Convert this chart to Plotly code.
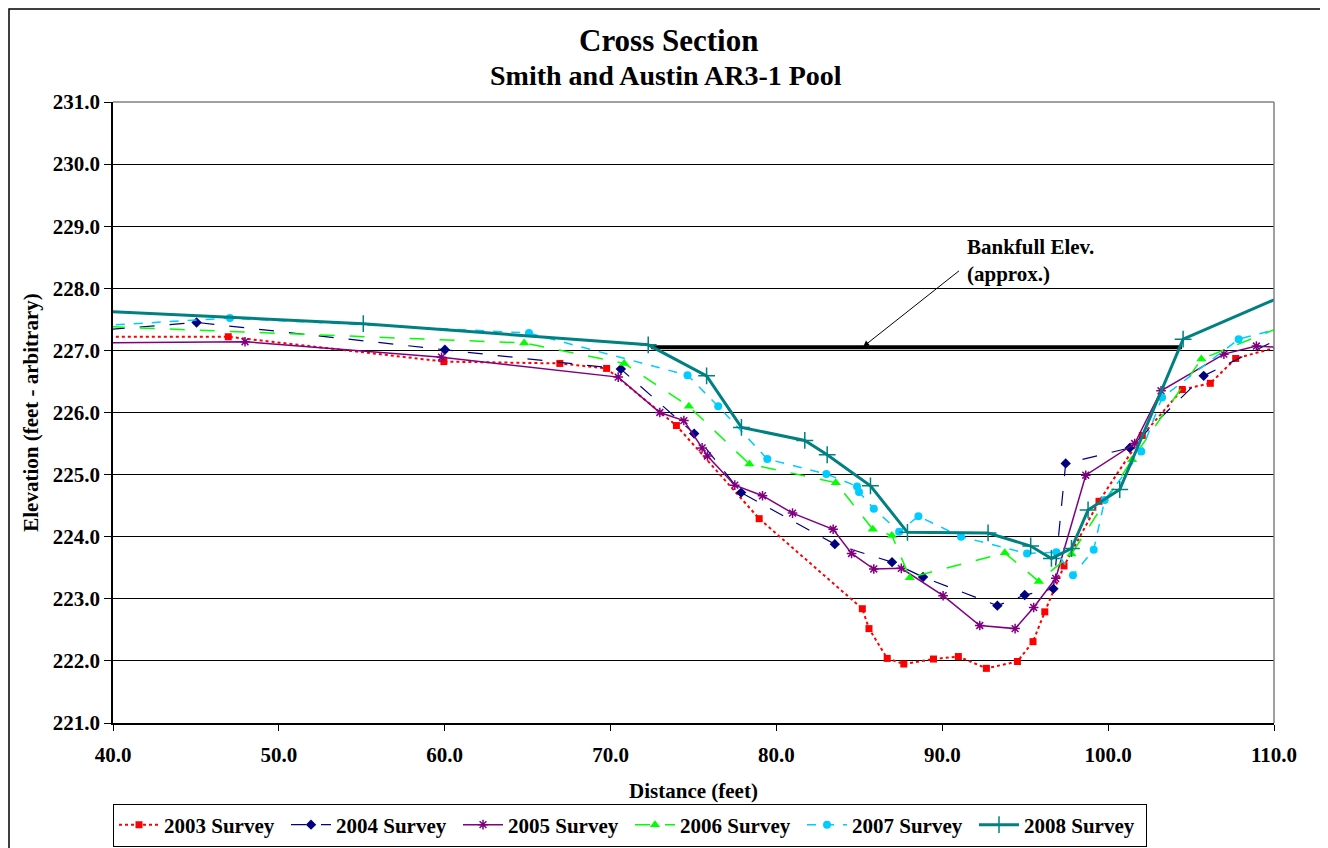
import plotly.graph_objects as go

# ---------------- data ----------------
x2003 = [38.0, 46.95, 59.95, 66.94, 69.76, 73.97, 78.96, 85.18, 85.58, 86.68, 87.68, 89.47, 90.97, 92.66, 94.53, 95.47, 96.18, 97.34, 99.45, 102.06, 104.47, 106.16, 107.69, 111.0]
y2003 = [227.22, 227.22, 226.82, 226.79, 226.71, 225.79, 224.29, 222.84, 222.52, 222.04, 221.95, 222.03, 222.07, 221.88, 221.99, 222.31, 222.79, 223.53, 224.57, 225.63, 226.37, 226.47, 226.87, 227.11]

x2004 = [38.0, 45.04, 60.01, 70.62, 75.04, 77.87, 83.52, 86.97, 88.84, 93.32, 94.97, 96.70, 97.44, 101.30, 105.76, 111.0]
y2004 = [227.30, 227.45, 227.01, 226.70, 225.66, 224.71, 223.88, 223.59, 223.35, 222.89, 223.06, 223.16, 225.18, 225.43, 226.59, 227.28]

x2005 = [38.0, 47.96, 59.81, 70.46, 72.97, 74.42, 75.52, 75.84, 77.49, 79.16, 80.97, 83.42, 84.53, 85.87, 87.53, 90.05, 92.26, 94.39, 95.51, 96.84, 98.65, 101.6, 103.19, 106.98, 108.94, 111.0]
y2005 = [227.12, 227.14, 226.89, 226.57, 226.00, 225.87, 225.43, 225.30, 224.83, 224.66, 224.38, 224.12, 223.73, 223.48, 223.49, 223.05, 222.57, 222.52, 222.86, 223.33, 224.99, 225.50, 226.35, 226.94, 227.07, 227.04]

x2006 = [38.0, 64.79, 70.82, 74.72, 78.37, 83.58, 85.81, 86.96, 88.04, 93.77, 95.82, 97.79, 101.44, 105.62, 111.0]
y2006 = [227.40, 227.12, 226.79, 226.10, 225.17, 224.87, 224.12, 224.02, 223.34, 223.74, 223.28, 223.72, 225.24, 226.86, 227.44]

x2007 = [38.0, 47.05, 65.08, 74.64, 76.49, 79.45, 83.01, 84.86, 84.98, 85.87, 87.40, 88.56, 91.13, 95.11, 96.88, 97.88, 99.13, 99.79, 102.0, 103.25, 107.87, 111.0]
y2007 = [227.38, 227.52, 227.28, 226.60, 226.10, 225.25, 225.01, 224.81, 224.72, 224.45, 224.08, 224.33, 224.00, 223.73, 223.75, 223.38, 223.79, 224.59, 225.37, 226.24, 227.18, 227.40]

x2008 = [38.0, 55.09, 72.27, 75.79, 77.89, 81.71, 83.06, 85.67, 87.90, 92.76, 95.33, 96.58, 97.79, 98.79, 100.70, 104.52, 111.0]
y2008 = [227.65, 227.43, 227.09, 226.59, 225.76, 225.55, 225.32, 224.82, 224.07, 224.06, 223.85, 223.65, 223.81, 224.43, 224.76, 227.18, 227.93]

bankfull_x = [72.45, 104.45]
bankfull_y = [227.05, 227.05]

x_ticks = [40, 50, 60, 70, 80, 90, 100, 110]
y_ticks = [221, 222, 223, 224, 225, 226, 227, 228, 229, 230, 231]

FONT = "Liberation Serif"

fig = go.Figure()

fig.add_trace(go.Scatter(x=bankfull_x, y=bankfull_y, mode="lines",
                         line=dict(color="black", width=4), showlegend=False,
                         hoverinfo="skip"))

series = [
    ("2003 Survey", x2003, y2003, dict(color="#FF0000", width=2, dash="dot"),
     dict(symbol="square", size=7, color="#FF0000")),
    ("2004 Survey", x2004, y2004, dict(color="#000080", width=1.2, dash="longdash"),
     dict(symbol="diamond", size=8, color="#000080")),
    ("2005 Survey", x2005, y2005, dict(color="#800080", width=1.5),
     dict(symbol="asterisk-open", size=8, color="#800080", line=dict(color="#800080", width=1.5))),
    ("2006 Survey", x2006, y2006, dict(color="#00FF00", width=1.5, dash="longdash"),
     dict(symbol="triangle-up", size=9, color="#00FF00")),
    ("2007 Survey", x2007, y2007, dict(color="#00CCFF", width=1.5, dash="dash"),
     dict(symbol="circle", size=8, color="#00CCFF")),
    ("2008 Survey", x2008, y2008, dict(color="#008080", width=3),
     dict(symbol="cross-thin-open", size=12, color="#008080", line=dict(color="#008080", width=1.5))),
]
for name, xs, ys, ln, mk in series:
    fig.add_trace(go.Scatter(x=xs, y=ys, mode="lines+markers", name=name,
                             line=ln, marker=mk))

# The page has an 8px body margin; figure is sized/positioned to compensate.
OFF = 8
W, H = 1320, 840
L, R, T, B = 105, 54, 94, 125
pw, ph = W - L - R, H - T - B

def fpx(fx):          # figure px -> paper x
    return (fx - L) / pw

def fpy(fy):          # figure px -> paper y
    return (H - B - fy) / ph

def px(X):            # reference (page) px -> paper x
    return fpx(X - OFF)

def py(Y):
    return fpy(Y - OFF)

fig.update_layout(
    width=W, height=H,
    margin=dict(l=L, r=R, t=T, b=B),
    paper_bgcolor="white", plot_bgcolor="white",
    font=dict(family=FONT, size=20, color="black"),
    showlegend=True,
    legend=dict(orientation="h", xref="container", yref="container",
                x=(113 - OFF) / W, y=1 - (825 - OFF) / H,
                xanchor="left", yanchor="middle",
                bordercolor="black", borderwidth=1,
                font=dict(family=FONT, size=21, color="black", weight="bold"),
                entrywidth=117, entrywidthmode="pixels", itemwidth=40,
                tracegroupgap=0),
    xaxis=dict(range=[40, 110], tickvals=x_ticks, tickformat=".1f",
               automargin=False,
               showgrid=False, zeroline=False,
               showline=True, linecolor="black", linewidth=1.5,
               ticks="outside", ticklen=6, tickcolor="black",
               ticklabelstandoff=6,
               tickfont=dict(family=FONT, size=21, weight="bold"),
               title=dict(text="<b>Distance (feet)</b>", standoff=17,
                          font=dict(family=FONT, size=21))),
    yaxis=dict(range=[221, 231], tickvals=y_ticks, tickformat=".1f",
               automargin=False,
               showgrid=True, gridcolor="black", gridwidth=1, zeroline=False,
               showline=True, linecolor="black", linewidth=1.5,
               ticks="outside", ticklen=7, tickcolor="black",
               tickfont=dict(family=FONT, size=21, weight="bold"),
               title=dict(text="<b>Elevation (feet - arbitrary)</b>", standoff=8,
                          font=dict(family=FONT, size=21))),
)

# plot-area frame (top/right in gray) and outer chart border
fig.add_shape(type="line", xref="paper", yref="paper", x0=0, x1=1, y0=1, y1=1,
              line=dict(color="#808080", width=1.5))
fig.add_shape(type="line", xref="paper", yref="paper", x0=1, x1=1, y0=0, y1=1,
              line=dict(color="#808080", width=1.5))
fig.add_shape(type="rect", xref="paper", yref="paper",
              x0=fpx(1), x1=px(1325), y0=fpy(H + 5), y1=fpy(1),
              line=dict(color="black", width=1.5))

# titles
fig.add_annotation(text="<b>Cross Section</b>", xref="paper", yref="paper",
                   x=px(668), y=py(40), showarrow=False, xanchor="center", yanchor="middle",
                   font=dict(family=FONT, size=31))
fig.add_annotation(text="<b>Smith and Austin AR3-1 Pool</b>", xref="paper", yref="paper",
                   x=px(666), y=py(75), showarrow=False, xanchor="center", yanchor="middle",
                   font=dict(family=FONT, size=28))

# bankfull annotation
fig.add_annotation(x=85.23, y=227.06, ax=91.1, ay=228.3, xref="x", yref="y",
                   axref="x", ayref="y", text="", showarrow=True,
                   arrowhead=2, arrowsize=1.2, arrowwidth=1, arrowcolor="black")
fig.add_annotation(x=91.35, y=228.45, xref="x", yref="y", showarrow=False,
                   text="<b>Bankfull Elev.<br>(approx.)</b>", align="left",
                   xanchor="left", yanchor="middle",
                   font=dict(family=FONT, size=21))

fig.write_html("out.html")
